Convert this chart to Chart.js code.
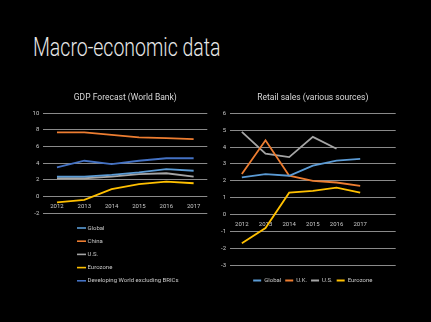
<!DOCTYPE html>
<html>
<head>
<meta charset="utf-8">
<script src="https://cdn.jsdelivr.net/npm/chart.js@4.4.1/dist/chart.umd.min.js"></script>
<style>
  html, body { margin: 0; padding: 0; background: #000; }
  body { width: 431px; height: 322px; position: relative; overflow: hidden; font-family: Roboto, "Liberation Sans", sans-serif; }
  #title { position: absolute; left: 33px; top: 33px; color: #e6e6e6; font-size: 25px; font-weight: 300; white-space: nowrap; transform-origin: 0 0; transform: scaleX(0.78); }
  .box { position: absolute; top: 88px; height: 210px; }
  #gdpBox { left: 26px; width: 190px; }
  #retailBox { left: 212px; width: 196px; }
</style>
</head>
<body>
<div id="title">Macro-economic data</div>
<div class="box" id="gdpBox"><canvas id="gdpChart"></canvas></div>
<div class="box" id="retailBox"><canvas id="retailChart"></canvas></div>
<script>
// --- Data ---
const gdpYears = ["2012", "2013", "2014", "2015", "2016", "2017"];
const gdpGlobal = [2.4, 2.4, 2.6, 2.9, 3.3, 3.1];
const gdpChina = [7.7, 7.7, 7.4, 7.1, 7.0, 6.9];
const gdpUS = [2.2, 2.2, 2.4, 2.7, 2.8, 2.4];
const gdpEurozone = [-0.7, -0.4, 0.9, 1.5, 1.8, 1.6];
const gdpDeveloping = [3.5, 4.3, 3.9, 4.3, 4.6, 4.6];

const retailYears = ["2012", "2013", "2014", "2015", "2016", "2017", ""];
const retailGlobal = [2.2, 2.4, 2.3, 2.9, 3.2, 3.3, null];
const retailUK = [2.4, 4.4, 2.3, 2.0, 1.9, 1.7, null];
const retailUS = [4.9, 3.6, 3.4, 4.6, 3.9, null, null];
const retailEurozone = [-1.7, -0.8, 1.3, 1.4, 1.6, 1.3, null];

// --- Styles ---
const BLUE = "#5b9bd5", ORANGE = "#ed7d31", GRAY = "#a5a5a5", GOLD = "#ffc000", DARK_BLUE = "#4472c4";
const TEXT = "#c8c8c8";
const GRID = "#8a8a8a";
const FONT = "Roboto, 'Liberation Sans', sans-serif";

Chart.defaults.font.family = FONT;
Chart.defaults.color = TEXT;

const line = (label, data, color) => ({
  label, data, borderColor: color, backgroundColor: color,
  borderWidth: 1.8, pointRadius: 0, tension: 0, spanGaps: false
});

// vertical legend drawn under the GDP chart
const listLegend = {
  id: "listLegend",
  afterDraw(chart, args, opts) {
    const ctx = chart.ctx;
    ctx.save();
    ctx.font = opts.font;
    ctx.textBaseline = "middle";
    chart.data.datasets.forEach((ds, i) => {
      const y = opts.top + i * opts.rowHeight;
      ctx.strokeStyle = ds.borderColor;
      ctx.lineWidth = 1.6;
      ctx.beginPath();
      ctx.moveTo(opts.left, y);
      ctx.lineTo(opts.left + opts.lineLength, y);
      ctx.stroke();
      ctx.fillStyle = TEXT;
      ctx.fillText(ds.label, opts.left + opts.lineLength + 1.5, y);
    });
    ctx.restore();
  }
};

function axisY(min, max, step, width) {
  return {
    min, max,
    ticks: { stepSize: step, color: TEXT, font: { size: 6 }, padding: 4 },
    grid: { color: GRID, lineWidth: 1, drawTicks: false },
    border: { display: false },
    afterFit: (s) => { s.width = width; }
  };
}

function axisX() {
  return {
    position: { y: 0 },
    offset: true,
    grid: { display: false, drawTicks: false },
    border: { display: false },
    ticks: { color: TEXT, font: { size: 6 }, padding: 6, maxRotation: 0, autoSkip: false }
  };
}

// title centred over the plot area rather than the whole canvas
function titleOpts(text) {
  return { display: true, fullSize: false, text, color: "#d9d9d9", font: { size: 8.5, weight: "normal" }, padding: { top: 5, bottom: 10 } };
}

new Chart(document.getElementById("gdpChart"), {
  type: "line",
  data: {
    labels: gdpYears,
    datasets: [
      line("Global", gdpGlobal, BLUE),
      line("China", gdpChina, ORANGE),
      line("U.S.", gdpUS, GRAY),
      line("Eurozone", gdpEurozone, GOLD),
      line("Developing World excluding BRICs", gdpDeveloping, DARK_BLUE)
    ]
  },
  options: {
    responsive: true, maintainAspectRatio: false, animation: false, devicePixelRatio: 1,
    layout: { padding: { right: 8.7, bottom: 84.7 } },
    scales: { x: axisX(), y: axisY(-2, 10, 2, 17.3) },
    plugins: {
      title: titleOpts("GDP Forecast (World Bank)"),
      legend: { display: false },
      tooltip: { enabled: false },
      listLegend: { left: 51, top: 140, rowHeight: 13.2, lineLength: 9, font: "6px " + FONT }
    }
  },
  plugins: [listLegend]
});

new Chart(document.getElementById("retailChart"), {
  type: "line",
  data: {
    labels: retailYears,
    datasets: [
      line("Global", retailGlobal, BLUE),
      line("U.K.", retailUK, ORANGE),
      line("U.S.", retailUS, GRAY),
      line("Eurozone", retailEurozone, GOLD)
    ]
  },
  options: {
    responsive: true, maintainAspectRatio: false, animation: false, devicePixelRatio: 1,
    layout: { padding: { right: 12.3, bottom: 4.5 } },
    scales: { x: axisX(), y: axisY(-3, 6, 1, 18) },
    plugins: {
      title: titleOpts("Retail sales (various sources)"),
      legend: {
        position: "bottom",
        fullSize: false,
        title: { display: true, text: " ", font: { size: 6 }, padding: { top: 0, bottom: 1 } },
        labels: { usePointStyle: true, pointStyle: "line", pointStyleWidth: 8, boxHeight: 6, color: TEXT, font: { size: 6 }, padding: 4 }
      },
      tooltip: { enabled: false }
    }
  }
});
</script>
</body>
</html>
